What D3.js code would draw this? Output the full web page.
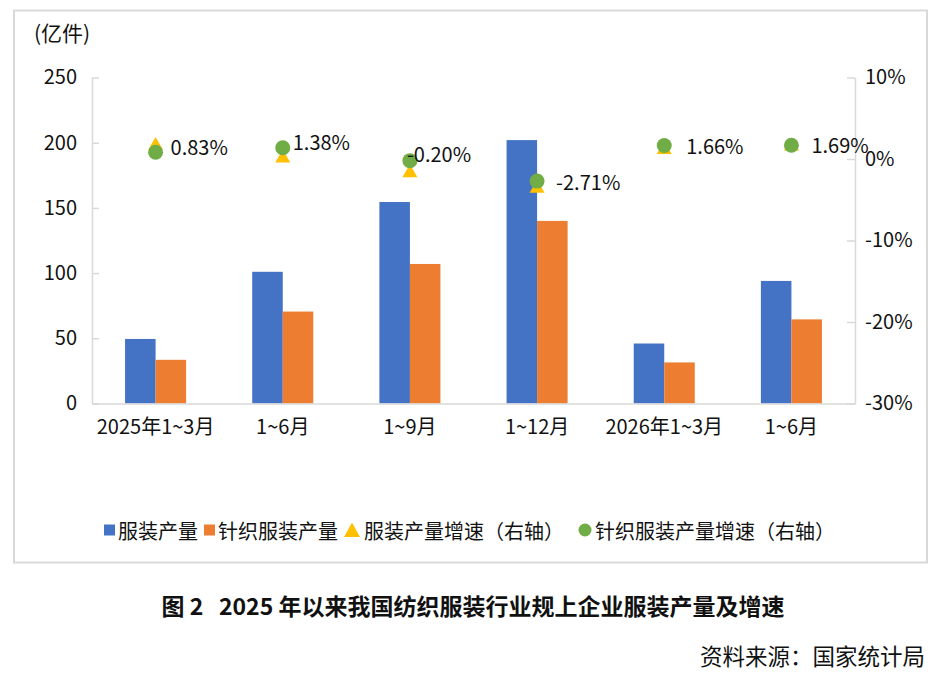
<!DOCTYPE html>
<html>
<head>
<meta charset="utf-8">
<script src="https://cdn.jsdelivr.net/npm/d3@7"></script>
<style>
  body { margin: 0; background: #fff; }
  svg text { font-family: "Noto Sans CJK SC", "Noto Sans", sans-serif; fill: #111; }
</style>
</head>
<body>
<div id="container"></div>
<script>
// data
const categories = ["2025年1~3月", "1~6月", "1~9月", "1~12月", "2026年1~3月", "1~6月"];
const apparelOutput = [49.5, 101, 154.5, 202, 46, 94];        // 服装产量 (亿件)
const knitOutput = [33.5, 70.5, 107, 140, 31.5, 64.5];        // 针织服装产量 (亿件)
const apparelGrowth = [1.9, 0.38, -1.45, -3.35, 1.4, 1.85];   // 服装产量增速 (%)
const knitGrowth = [0.83, 1.38, -0.20, -2.71, 1.66, 1.69];    // 针织服装产量增速 (%)
const leftTicks = [0, 50, 100, 150, 200, 250];
const rightTicks = [10, 0, -10, -20, -30];
const seriesNames = ["服装产量", "针织服装产量", "服装产量增速（右轴）", "针织服装产量增速（右轴）"];

// label nudges (dx, dy) from each growth point
const labelNudge = [[15, -6], [10, -6], [-3, -7], [19, 0], [22, 0], [20, -1]];

const width = 943, height = 682;
const marginLeft = 92, marginRight = 88, marginTop = 77.5, marginBottom = 278.5;
const colors = ["#4472C4", "#ED7D31", "#FFC000", "#70AD47"];
const fs = 20;

const svg = d3.select("#container").append("svg")
    .attr("width", width)
    .attr("height", height)
    .attr("viewBox", [0, 0, width, height]);

// outer frame
svg.append("rect")
    .attr("x", 14).attr("y", 10.5)
    .attr("width", 913).attr("height", 552)
    .attr("fill", "none")
    .attr("stroke", "#d9d9d9")
    .attr("stroke-width", 2);

const x = d3.scaleBand()
    .domain(d3.range(categories.length))
    .range([marginLeft, width - marginRight])
    .paddingInner(0.52)
    .paddingOuter(0.26);

const xSub = d3.scaleBand()
    .domain([0, 1])
    .range([0, x.bandwidth()]);

const y = d3.scaleLinear()
    .domain([0, 250])
    .range([height - marginBottom, marginTop]);

const y2 = d3.scaleLinear()
    .domain([-30, 10])
    .range([height - marginBottom, marginTop]);

// bars
[apparelOutput, knitOutput].forEach((vals, s) => {
  svg.append("g")
    .attr("fill", colors[s])
    .selectAll()
    .data(vals)
    .join("rect")
    .attr("x", (d, i) => x(i) + xSub(s))
    .attr("y", d => y(d))
    .attr("width", xSub.bandwidth())
    .attr("height", d => y(0) - y(d));
});

// axes
const axisColor = "#d9d9d9";
function styleAxis(g) {
  g.selectAll(".domain").attr("stroke", axisColor).attr("stroke-width", 1.5);
  g.selectAll(".tick line").attr("stroke", axisColor).attr("stroke-width", 1.5);
  g.selectAll("text").attr("font-size", fs).attr("fill", "#111")
    .attr("font-family", "'Noto Sans CJK SC', sans-serif");
}

svg.append("g")
    .attr("transform", `translate(${marginLeft},0)`)
    .call(d3.axisLeft(y).tickValues(leftTicks).tickSize(-7).tickSizeOuter(0).tickPadding(15))
    .call(styleAxis);

svg.append("g")
    .attr("transform", `translate(${width - marginRight},0)`)
    .call(d3.axisRight(y2).tickValues(rightTicks).tickSize(-8).tickSizeOuter(0).tickPadding(10)
      .tickFormat(d => d + "%"))
    .call(styleAxis);

svg.append("g")
    .attr("transform", `translate(0,${y(0)})`)
    .call(d3.axisBottom(x).tickSize(0).tickSizeOuter(0).tickPadding(16)
      .tickFormat(i => categories[i]))
    .call(styleAxis);

// unit label
svg.append("text")
    .attr("x", 34).attr("y", 32)
    .attr("dominant-baseline", "central")
    .attr("font-size", 21)
    .text("(亿件)");

// growth markers
const cx = i => x(i) + x.bandwidth() / 2;
const tri = "M0,-6.5L7.5,6.5L-7.5,6.5Z";

svg.append("g")
    .attr("fill", colors[2])
    .selectAll()
    .data(apparelGrowth)
    .join("path")
    .attr("d", tri)
    .attr("transform", (d, i) => `translate(${cx(i)},${y2(d)})`);

svg.append("g")
    .attr("fill", colors[3])
    .selectAll()
    .data(knitGrowth)
    .join("circle")
    .attr("cx", (d, i) => cx(i))
    .attr("cy", d => y2(d))
    .attr("r", 7.5);

svg.append("g")
    .selectAll()
    .data(knitGrowth)
    .join("text")
    .attr("x", (d, i) => cx(i) + labelNudge[i][0])
    .attr("y", (d, i) => y2(d) + labelNudge[i][1])
    .attr("dominant-baseline", "central")
    .attr("font-size", fs)
    .text(d => d.toFixed(2) + "%");

// legend
const legend = svg.append("g").attr("transform", "translate(104,530)");
let lx = 0;
seriesNames.forEach((name, i) => {
  const item = legend.append("g").attr("transform", `translate(${lx},0)`);
  if (i < 2) {
    item.append("rect").attr("x", 0).attr("y", -5.5).attr("width", 11).attr("height", 11).attr("fill", colors[i]);
  } else if (i === 2) {
    item.append("path").attr("d", "M8,-7.5L16,7L0,7Z").attr("fill", colors[i]);
  } else {
    item.append("circle").attr("cx", 7).attr("cy", 0).attr("r", 6.5).attr("fill", colors[i]);
  }
  const mw = i === 2 ? 17 : (i === 3 ? 14 : 11);
  const t = item.append("text")
    .attr("x", mw + 3)
    .attr("dominant-baseline", "central")
    .attr("font-size", fs)
    .text(name);
  lx += mw + 3 + t.node().getComputedTextLength() + (i === 2 ? 14 : 6);
});

// caption and source
svg.append("text")
    .attr("x", 473).attr("y", 605)
    .attr("text-anchor", "middle")
    .attr("dominant-baseline", "central")
    .attr("font-size", 23)
    .attr("font-weight", "bold")
    .style("white-space", "pre")
    .text("图 2   2025 年以来我国纺织服装行业规上企业服装产量及增速");

svg.append("text")
    .attr("x", 925).attr("y", 655)
    .attr("text-anchor", "end")
    .attr("dominant-baseline", "central")
    .attr("font-size", 22.5)
    .text("资料来源：国家统计局");
</script>
</body>
</html>
